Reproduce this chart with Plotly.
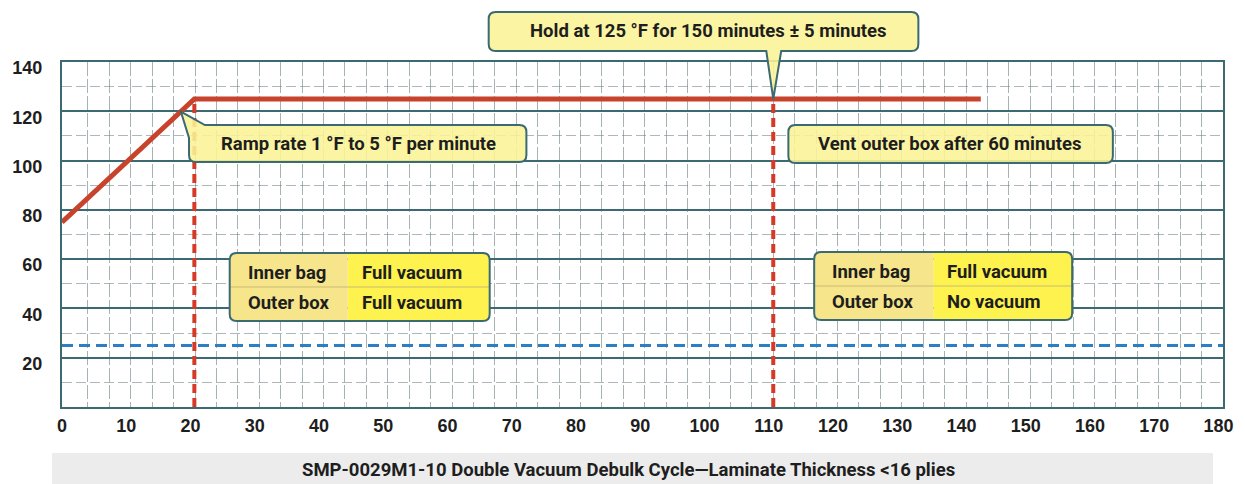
import plotly.graph_objects as go

# Cure-cycle temperature profile (minutes, °F)
profile_time = [0, 20.6, 143]
profile_temp = [75, 125, 125]

# Phase markers (red dashed verticals) and their callout tip positions
marker_times = [20.6, 110.7]
hold_temp = 125
ramp_tip_time = 18.5

# Vacuum reference level (blue dashed)
vacuum_level = 25

x_ticks = list(range(0, 181, 10))
y_ticks = [20, 40, 60, 80, 100, 120, 140]
y_minor = [10, 30, 50, 70, 90, 110, 130]

X_MAX = 180.7
Y_MAX = 140

# plot-area geometry in pixels
L, T, W, H = 55, 62, 1170, 345
B = T + H
FIG_W, FIG_H = 1245, 484

TEXT = "#1e1e1e"
FRAME = "#3b6a73"
CALLOUT_FILL = "rgba(250,244,150,0.88)"
LEFT_FILL = "#f6e58a"
RIGHT_FILL = "#fdf24e"
LABEL_FONT = "Roboto, Liberation Sans, Arial, sans-serif"
LABEL_SIZE = 18.5


def dx(t):
    return L + t * W / X_MAX


def dy(v):
    return B - v * H / Y_MAX


def P(px, py):
    return f"{(px - L) / W:.5f},{(B - py) / H:.5f}"


def rounded(x0, y0, x1, y1, r=(7, 7, 7, 7), bottom_wedge=None, corner_wedge=None):
    """Rounded box path in paper coords; corners r = (tl, tr, br, bl)."""
    tl, tr, br, bl = r
    s = []
    if corner_wedge:
        tipx, tipy, top_x, left_y = corner_wedge
        s.append("M" + P(top_x, y0))
    else:
        s.append("M" + P(x0 + tl, y0))
    s.append("L" + P(x1 - tr, y0))
    if tr:
        s.append("Q" + P(x1, y0) + " " + P(x1, y0 + tr))
    s.append("L" + P(x1, y1 - br))
    if br:
        s.append("Q" + P(x1, y1) + " " + P(x1 - br, y1))
    if bottom_wedge:
        a, b, tipx, tipy = bottom_wedge
        s.append("L" + P(b, y1))
        s.append("L" + P(tipx, tipy))
        s.append("L" + P(a, y1))
    s.append("L" + P(x0 + bl, y1))
    if bl:
        s.append("Q" + P(x0, y1) + " " + P(x0, y1 - bl))
    if corner_wedge:
        s.append("L" + P(x0, left_y))
        s.append("L" + P(tipx, tipy))
    else:
        s.append("L" + P(x0, y0 + tl))
        if tl:
            s.append("Q" + P(x0, y0) + " " + P(x0 + tl, y0))
    s.append("Z")
    return " ".join(s)


fig = go.Figure()

# vacuum reference
fig.add_trace(go.Scatter(
    x=[0, X_MAX], y=[vacuum_level, vacuum_level], mode="lines",
    line=dict(color="#2b7fc4", width=3, dash="11px,6px"),
    hoverinfo="skip", showlegend=False))

# phase markers
for t in marker_times:
    fig.add_trace(go.Scatter(
        x=[t, t], y=[0, hold_temp], mode="lines",
        line=dict(color="#d63a26", width=4, dash="9px,5px"),
        hoverinfo="skip", showlegend=False))

# temperature profile
fig.add_trace(go.Scatter(
    x=profile_time, y=profile_temp, mode="lines",
    line=dict(color="#c8432b", width=5),
    hoverinfo="skip", showlegend=False))

shapes = []
annotations = []


def label(px, py, text, anchor="center", size=LABEL_SIZE):
    annotations.append(dict(xref="paper", yref="paper",
                            x=(px - L) / W, y=(B - py) / H,
                            text=f"<b>{text}</b>", showarrow=False,
                            xanchor=anchor, yanchor="middle",
                            font=dict(family=LABEL_FONT, size=size, color=TEXT)))


def callout(x0, y0, x1, y1, text, cx, cy, **kw):
    shapes.append(dict(type="path", xref="paper", yref="paper", layer="above",
                       path=rounded(x0, y0, x1, y1, **kw),
                       fillcolor=CALLOUT_FILL,
                       line=dict(color=FRAME, width=2)))
    label(cx, cy, text)


# hold callout with wedge pointing at the vent marker on the hold line
hx, hy = dx(marker_times[1]), dy(hold_temp)
callout(485, 12, 918, 51, "Hold at 125 °F for 150 minutes ± 5 minutes", 707, 31,
        bottom_wedge=(hx - 7, hx + 8, hx, hy))

# ramp callout with wedge from its top-left corner to the ramp
rx = dx(ramp_tip_time)
ry = dy(profile_temp[0] + (profile_temp[1] - profile_temp[0]) * ramp_tip_time / profile_time[1])
callout(183, 125, 523, 162, "Ramp rate 1 °F to 5 °F per minute", 354, 144,
        corner_wedge=(rx, ry, 199, 138))

callout(787, 125, 1114, 163, "Vent outer box after 60 minutes", 949, 144)


def table(x0, y0, x1, y1, split, rows):
    mid = (y0 + y1) / 2
    shapes.append(dict(type="path", xref="paper", yref="paper", layer="above",
                       path=rounded(split, y0, x1, y1, r=(0, 7, 7, 0)),
                       fillcolor=RIGHT_FILL, line=dict(width=0)))
    shapes.append(dict(type="path", xref="paper", yref="paper", layer="above",
                       path=rounded(x0, y0, split, y1, r=(7, 0, 0, 7)),
                       fillcolor=LEFT_FILL, line=dict(width=0)))
    shapes.append(dict(type="path", xref="paper", yref="paper", layer="above",
                       path="M" + P(x0, mid) + " L" + P(x1, mid),
                       line=dict(color="#c9bc72", width=1)))
    shapes.append(dict(type="path", xref="paper", yref="paper", layer="above",
                       path=rounded(x0, y0, x1, y1),
                       fillcolor="rgba(0,0,0,0)", line=dict(color=FRAME, width=2)))
    for i, (k, v) in enumerate(rows):
        cy = y0 + (y1 - y0) * (0.29 + 0.45 * i)
        label(x0 + 16, cy, k, anchor="left")
        label(split + 12, cy, v, anchor="left")


table(224, 253, 486, 321, 343, [("Inner bag", "Full vacuum"), ("Outer box", "Full vacuum")])
table(813, 252, 1073, 320, 933, [("Inner bag", "Full vacuum"), ("Outer box", "No vacuum")])

# caption strip
shapes.append(dict(type="rect", xref="paper", yref="paper", layer="below",
                   x0=(45 - L) / W, x1=(1215 - L) / W,
                   y0=(B - 484) / H, y1=(B - 453) / H,
                   fillcolor="#ececec", line=dict(width=0)))
label(626, 470, "SMP-0029M1-10 Double Vacuum Debulk Cycle—Laminate Thickness <16 plies")

# graph-paper vertical rulings
v_rules = [0.7 + i * 10 / 3 for i in range(1, 54)]

tick_font = dict(size=18, family="Liberation Sans, Arial, sans-serif", weight="bold", color=TEXT)

fig.update_layout(
    width=FIG_W, height=FIG_H,
    margin=dict(l=L, r=FIG_W - L - W, t=T, b=FIG_H - B),
    paper_bgcolor="white", plot_bgcolor="white",
    shapes=shapes, annotations=annotations,
    font=dict(family="Liberation Sans, Arial, sans-serif", color=TEXT),
    xaxis=dict(
        range=[0, X_MAX], tickvals=x_ticks, ticktext=[str(v) for v in x_ticks],
        showgrid=False, zeroline=False, showline=True, mirror=True,
        linecolor=FRAME, linewidth=2, ticks="", ticklabelstandoff=1,
        tickfont=tick_font,
        minor=dict(tickvals=v_rules, showgrid=True, gridcolor="rgba(95,115,120,0.55)",
                   gridwidth=1, griddash="14px,3px", ticks=""),
    ),
    yaxis=dict(
        range=[0, Y_MAX], tickvals=y_ticks, ticktext=[str(v) for v in y_ticks],
        showgrid=True, gridcolor=FRAME, gridwidth=1.5, zeroline=False,
        showline=True, mirror=True, linecolor=FRAME, linewidth=2,
        ticks="", ticklabelstandoff=14, ticklabelshift=6,
        tickfont=tick_font,
        minor=dict(tickvals=y_minor, showgrid=True, gridcolor="rgba(120,135,140,0.6)",
                   gridwidth=1, griddash="10px,4px", ticks=""),
    ),
)

fig.write_html("out.html")
